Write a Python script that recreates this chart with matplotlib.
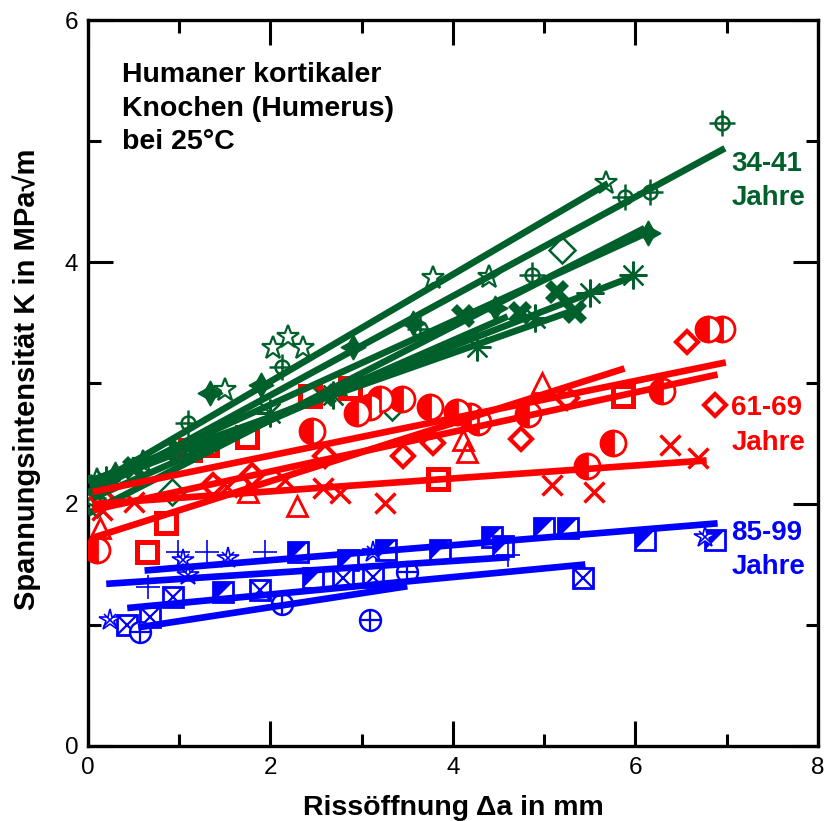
import numpy as np
import matplotlib
matplotlib.use('Agg')
import matplotlib.pyplot as plt
from matplotlib.ticker import MultipleLocator

# colours of the three age groups
c_green = '#00602B'
c_red = '#FF0000'
c_blue = '#0000FF'

# ---- 34-41 Jahre (green) ----
g_star_x = [0.1, 0.6, 1.5, 2.03, 2.19, 2.36, 3.78, 4.4, 5.68]
g_star_y = [2.2, 2.35, 2.94, 3.29, 3.38, 3.29, 3.87, 3.88, 4.65]
g_cc_x = [0.05, 1.1, 2.13, 3.64, 4.87, 5.88, 6.16, 6.95]
g_cc_y = [2.05, 2.67, 3.13, 3.45, 3.89, 4.54, 4.58, 5.15]
g_fstar_x = [0.3, 1.34, 1.9, 2.9, 3.56, 4.46, 6.14]
g_fstar_y = [2.25, 2.92, 2.98, 3.3, 3.5, 3.62, 4.24]
g_ast_x = [0.2, 1.0, 2.0, 2.69, 4.26, 4.9, 5.5, 5.97]
g_ast_y = [2.2, 2.45, 2.75, 2.9, 3.3, 3.54, 3.74, 3.89]
g_bx_x = [0.1, 0.5, 1.0, 2.6, 4.11, 4.73, 5.14, 5.34]
g_bx_y = [2.15, 2.3, 2.45, 2.9, 3.55, 3.58, 3.75, 3.59]
g_dia_x = [0.1, 0.92, 3.33, 5.2]
g_dia_y = [2.0, 2.1, 2.8, 4.1]
g_fit_x = [[0.05, 5.7], [0.05, 6.98], [0.05, 6.15], [0.0, 6.1], [0.05, 5.97], [0.05, 5.4], [0.05, 4.6]]
g_fit_y = [[2.15, 4.65], [2.1, 4.94], [2.15, 4.25], [1.92, 4.28], [2.15, 3.88], [2.2, 3.62], [2.05, 3.55]]

# ---- 61-69 Jahre (red) ----
r_hc_x = [0.1, 2.45, 2.95, 3.09, 3.2, 3.44, 3.75, 4.04, 4.19, 4.27, 4.82, 5.47, 5.75, 6.29, 6.8, 6.95]
r_hc_y = [1.62, 2.6, 2.75, 2.8, 2.87, 2.87, 2.8, 2.76, 2.73, 2.68, 2.74, 2.31, 2.5, 2.93, 3.45, 3.45]
r_sq_x = [0.65, 0.85, 1.12, 1.3, 1.74, 2.43, 2.87, 3.84, 5.86]
r_sq_y = [1.6, 1.84, 2.45, 2.49, 2.55, 2.89, 2.96, 2.21, 2.89]
r_dia_x = [0.15, 1.37, 1.8, 2.6, 3.45, 3.78, 4.75, 5.25, 6.57, 6.87]
r_dia_y = [2.05, 2.16, 2.24, 2.4, 2.4, 2.5, 2.54, 2.88, 3.34, 2.82]
r_tri_x = [0.13, 1.75, 2.29, 4.11, 4.15, 4.98]
r_tri_y = [1.8, 2.1, 1.98, 2.53, 2.43, 3.0]
r_x_x = [0.15, 0.5, 1.52, 2.16, 2.58, 2.76, 3.26, 5.09, 5.55, 6.38, 6.68]
r_x_y = [1.95, 2.02, 2.14, 2.2, 2.13, 2.09, 2.01, 2.16, 2.1, 2.49, 2.38]
r_fit_x = [[0.05, 5.88], [0.05, 6.99], [0.05, 6.9], [0.05, 6.78]]
r_fit_y = [[1.72, 3.12], [2.1, 3.17], [1.95, 3.07], [2.0, 2.36]]

# ---- 85-99 Jahre (blue) ----
b_half_x = [1.48, 2.3, 2.47, 2.85, 3.27, 3.86, 4.43, 4.55, 5.0, 5.26, 6.1, 6.87]
b_half_y = [1.27, 1.6, 1.39, 1.54, 1.62, 1.62, 1.73, 1.65, 1.8, 1.8, 1.7, 1.7]
b_xsq_x = [0.43, 0.68, 0.93, 1.88, 2.8, 3.12, 5.43]
b_xsq_y = [1.0, 1.07, 1.23, 1.29, 1.39, 1.4, 1.39]
b_oplus_x = [0.57, 2.13, 3.09, 3.5]
b_oplus_y = [0.94, 1.17, 1.04, 1.44]
b_plus_x = [0.66, 0.99, 1.3, 1.94, 4.6]
b_plus_y = [1.31, 1.6, 1.6, 1.6, 1.58]
b_star_x = [0.24, 1.04, 1.1, 1.53, 3.12, 6.76]
b_star_y = [1.04, 1.54, 1.41, 1.55, 1.6, 1.73]
b_fit_x = [[0.62, 6.9], [0.2, 4.62], [0.43, 5.45], [0.55, 3.5]]
b_fit_y = [[1.45, 1.84], [1.34, 1.56], [1.14, 1.5], [0.98, 1.32]]

plt.rcParams['font.family'] = ['Liberation Sans', 'DejaVu Sans']

fig = plt.figure(figsize=(8.27, 8.21), dpi=100)
ax = fig.add_axes([0.1064, 0.0914, 0.8827, 0.8842])


def pts(x, y, col, layers):
    # one scatter series may be drawn as several stacked marker layers
    for kw in layers:
        ax.plot(x, y, linestyle='none', color=col, zorder=3, **kw)


def fits(xs, ys, col):
    for x, y in zip(xs, ys):
        ax.plot(x, y, color=col, lw=4.8, solid_capstyle='butt', zorder=4)


tri_ul = [(-1, -1), (-1, 1), (1, 1)]

# green
fits(g_fit_x, g_fit_y, c_green)
pts(g_star_x, g_star_y, c_green, [dict(marker='*', ms=17, mfc='none', mew=1.6)])
pts(g_cc_x, g_cc_y, c_green, [dict(marker='o', ms=10, mfc='white', mew=1.8),
                               dict(marker='+', ms=19, mew=1.8)])
pts(g_fstar_x, g_fstar_y, c_green, [dict(marker=(4, 1, 0), ms=18, mew=1),
                                     dict(marker='o', ms=9)])
pts(g_ast_x, g_ast_y, c_green, [dict(marker=(8, 2, 0), ms=20, mew=1.6)])
pts(g_bx_x, g_bx_y, c_green, [dict(marker='X', ms=17, mew=0)])
pts(g_dia_x, g_dia_y, c_green, [dict(marker='D', ms=13, mfc='none', mew=1.8)])

# red
fits(r_fit_x, r_fit_y, c_red)
pts(r_hc_x, r_hc_y, c_red, [dict(marker='o', ms=18, fillstyle='left', mfc=c_red,
                                 markerfacecoloralt='white', mew=2)])
pts(r_sq_x, r_sq_y, c_red, [dict(marker='s', ms=14, mfc='none', mew=3.6)])
pts(r_dia_x, r_dia_y, c_red, [dict(marker='D', ms=11, mfc='none', mew=3)])
pts(r_tri_x, r_tri_y, c_red, [dict(marker='^', ms=15, mfc='none', mew=2)])
pts(r_x_x, r_x_y, c_red, [dict(marker='x', ms=15, mew=2.5)])

# blue
fits(b_fit_x, b_fit_y, c_blue)
pts(b_half_x, b_half_y, c_blue, [dict(marker='s', ms=15, mfc='white', mew=2),
                                 dict(marker=tri_ul, ms=15, mew=0)])
pts(b_xsq_x, b_xsq_y, c_blue, [dict(marker='s', ms=14, mfc='white', mew=2),
                               dict(marker='x', ms=14, mew=1.6)])
pts(b_oplus_x, b_oplus_y, c_blue, [dict(marker='o', ms=15, mfc='white', mew=1.8),
                                   dict(marker='+', ms=15, mew=1.6)])
pts(b_plus_x, b_plus_y, c_blue, [dict(marker='+', ms=17, mew=1.2)])
pts(b_star_x, b_star_y, c_blue, [dict(marker='*', ms=16, mfc='white', mew=1.2),
                                 dict(marker='x', ms=9, mew=1.2)])

ax.set_xlim(0, 8)
ax.set_ylim(0, 6)
ax.xaxis.set_major_locator(MultipleLocator(2))
ax.xaxis.set_minor_locator(MultipleLocator(1))
ax.yaxis.set_major_locator(MultipleLocator(2))
ax.yaxis.set_minor_locator(MultipleLocator(1))
ax.tick_params(which='both', direction='in', top=True, right=True, width=2.2)
ax.tick_params(which='major', length=18, labelsize=17.5)
ax.tick_params(axis='x', which='major', pad=8)
ax.tick_params(axis='y', which='major', pad=7)
ax.tick_params(which='minor', length=9)
for s in ax.spines.values():
    s.set_linewidth(2.4)

ax.set_xlabel('Rissöffnung Δa in mm', fontsize=20.5, fontweight='bold')
ax.set_ylabel('Spannungsintensität K in MPa√m', fontsize=21, fontweight='bold')
ax.xaxis.set_label_coords(0.5, -0.067)
ax.yaxis.set_label_coords(-0.064, 0.505)

ax.text(0.37, 5.65, 'Humaner kortikaler\nKnochen (Humerus)\nbei 25°C', fontsize=20.5,
        fontweight='bold', va='top', ha='left', linespacing=1.36)
ax.text(7.05, 4.67, '34-41\nJahre', color=c_green, fontsize=20, fontweight='bold',
        va='center', ha='left', linespacing=1.42)
ax.text(7.05, 2.65, '61-69\nJahre', color=c_red, fontsize=20, fontweight='bold',
        va='center', ha='left', linespacing=1.42)
ax.text(7.05, 1.62, '85-99\nJahre', color=c_blue, fontsize=20, fontweight='bold',
        va='center', ha='left', linespacing=1.42)

fig.savefig('out.png', dpi=100)
